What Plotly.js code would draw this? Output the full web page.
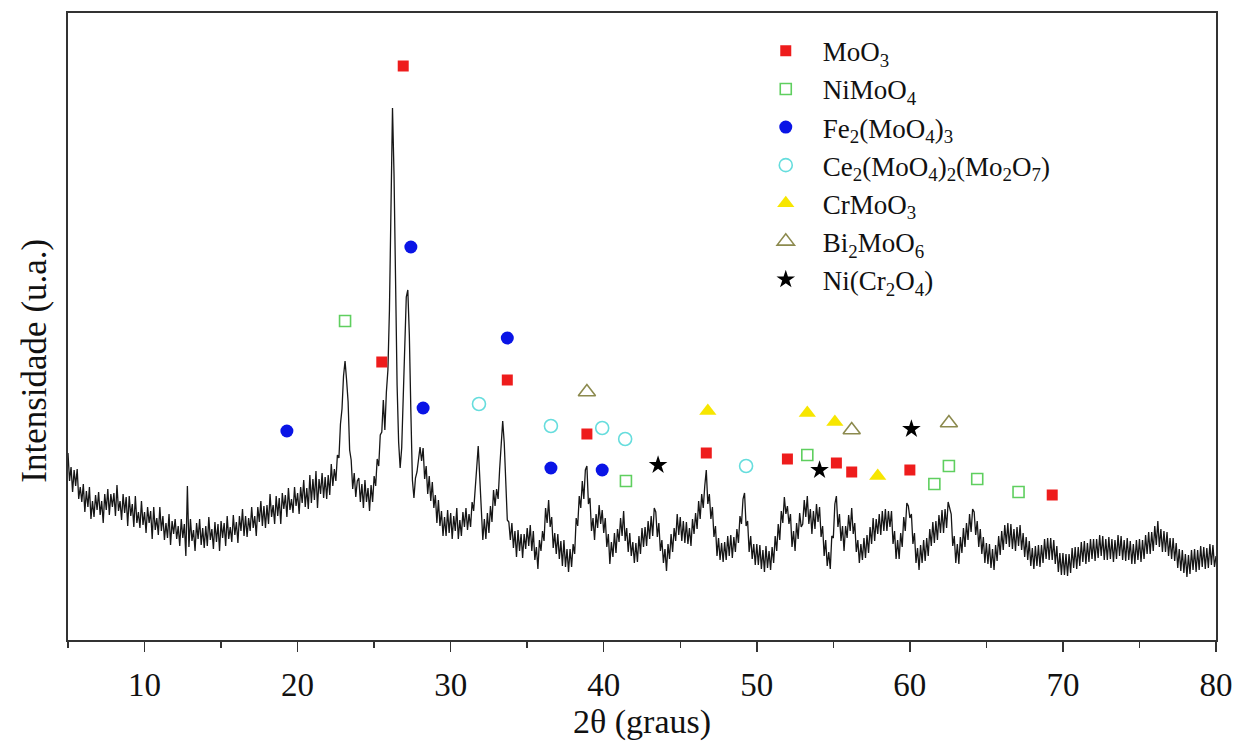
<!DOCTYPE html>
<html>
<head>
<meta charset="utf-8">
<script src="https://cdn.plot.ly/plotly-3.0.1.min.js"></script>
<style>
  html, body { margin: 0; padding: 0; background: #fff; }
  #chart { width: 1240px; height: 743px; }
</style>
</head>
<body>
<div id="chart"></div>
<script>
// 2θ measurement grid (instrument start and step, degrees)
const thetaStart = 5;
const thetaStep = 0.1;

const intensity = [
  187,159,173,148,170,154,171,141,153,138, // 5
  156,128,149,133,153,121,139,123,145,130, // 6
  148,125,139,117,146,130,151,125,146,133, // 7
  147,124,155,129,139,120,146,127,143,114, // 8
  144,124,136,113,144,117,128,112,139,115, // 9
  128,107,133,117,129,101,133,110,122,105, // 10
  133,109,124,100,117,102,126,95,119,106,  // 11
  121,101,114,94,121,102,116,84,154,93,    // 12
  121,99,110,89,117,101,121,95,112,92,     // 13
  114,94,123,100,111,91,118,98,116,89,     // 14
  119,102,117,94,124,101,113,98,125,105,   // 15
  118,97,124,109,131,104,124,103,122,109,  // 16
  133,112,124,104,133,118,139,114,134,112, // 17
  135,116,146,123,135,116,144,124,142,116, // 18
  147,131,145,123,152,130,141,127,153,134, // 19
  147,126,153,137,160,133,152,131,165,137, // 20
  161,140,169,132,161,146,167,142,163,141, // 21
  165,145,176,154,171,159,185,182,216,231, // 22
  264,279,260,238,190,180,151,167,143,159, // 23
  162,138,156,132,160,138,152,129,155,138, // 24
  164,154,181,174,205,208,240,210,248,270, // 25
  330,440,532,465,340,255,198,172,192,238, // 26
  298,343,350,305,228,160,142,162,168,184, // 27
  193,179,192,161,174,146,164,139,158,132, // 28
  145,117,140,114,129,104,123,104,130,107, // 29
  127,101,124,109,132,101,120,104,128,113, // 30
  132,110,126,113,138,129,156,172,194,160, // 31
  138,100,121,101,127,107,134,118,150,134, // 32
  151,141,171,192,219,197,163,120,118,100, // 33
  117,92,109,83,110,89,106,82,106,91,      // 34
  112,94,115,89,109,80,93,71,100,89,       // 35
  109,99,132,117,140,113,123,92,107,86,    // 36
  106,81,99,74,100,73,91,68,91,73,         // 37
  96,86,122,114,144,132,159,141,170,174,   // 38
  136,142,109,122,100,126,112,135,116,130, // 39
  107,122,93,106,76,98,83,107,87,111,      // 40
  98,122,104,129,99,112,88,107,84,98,      // 41
  77,97,78,104,86,112,93,113,94,119,       // 42
  101,124,104,132,128,103,117,89,100,77,   // 43
  91,69,96,81,106,88,112,99,126,105,       // 44
  123,99,119,97,118,96,112,94,121,106,     // 45
  127,111,139,121,146,132,154,170,136,146, // 46
  121,133,103,114,84,102,80,97,78,98,      // 47
  80,104,84,105,82,103,88,111,97,124,      // 48
  116,141,147,114,119,88,104,81,96,75,     // 49
  96,75,95,71,90,68,94,72,89,70,           // 50
  93,77,104,89,116,100,129,117,143,126,    // 51
  134,116,126,93,109,89,117,101,127,113,   // 52
  116,140,123,144,116,131,106,129,111,136, // 53
  118,133,103,114,84,100,74,88,71,104,     // 54
  102,136,144,113,126,99,114,89,114,102,   // 55
  125,109,132,106,117,88,100,77,96,80,     // 56
  102,82,105,87,113,96,122,99,121,106,     // 57
  126,105,129,109,131,109,129,113,129,96,  // 58
  109,81,100,81,107,93,123,109,137,134,    // 59
  122,126,96,107,77,92,70,95,77,100,       // 60
  79,102,84,111,94,118,97,119,100,125,     // 61
  107,130,107,131,112,138,132,126,94,104,  // 62
  77,96,76,103,87,112,93,117,100,126,      // 63
  108,131,128,105,119,93,111,86,103,77,    // 64
  97,76,96,72,91,70,95,79,104,85,          // 65
  109,90,115,96,117,93,116,91,111,89,      // 66
  113,94,115,90,107,83,103,80,99,74,       // 67
  92,71,94,74,95,73,95,77,101,81,          // 68
  102,80,102,80,100,76,94,68,87,65,        // 69
  87,65,86,64,86,67,92,72,93,71,           // 70
  93,74,98,78,99,76,97,78,101,81,          // 71
  101,79,101,82,105,84,104,80,101,80,      // 72
  103,81,101,78,100,81,105,84,104,80,      // 73
  100,79,102,80,99,76,96,76,100,80,        // 74
  101,78,100,81,105,86,108,86,108,89,      // 75
  114,95,119,93,111,88,109,88,108,84,      // 76
  102,81,102,79,97,72,91,69,90,67,         // 77
  86,63,85,66,90,70,91,68,90,70,           // 78
  94,73,93,71,92,72,96,75,95,73,           // 79
  84                                       // 80
];

// Phase identification markers (2θ, marker height in a.u.)
const moo3X = [26.9, 25.5, 33.7, 38.9, 46.7, 52.0, 55.2, 56.2, 60.0, 69.3];
const moo3Y = [574, 278, 260, 206, 187, 181, 177, 168, 170, 145];
const nimoo4X = [23.1, 41.45, 53.3, 61.6, 62.55, 64.4, 67.1];
const nimoo4Y = [319, 159, 185, 156, 174, 161, 148];
const fe2X = [19.3, 27.4, 28.2, 33.7, 36.55, 39.9];
const fe2Y = [209, 393, 232, 302, 172, 170];
const ce2X = [31.85, 36.55, 39.9, 41.4, 49.3];
const ce2Y = [236, 214, 212, 201, 174];
const crmoo3X = [46.8, 53.3, 55.1, 57.9];
const crmoo3Y = [229, 227, 218, 164];
const bi2X = [38.9, 56.2, 62.55];
const bi2Y = [248, 210, 217];
const nicrX = [43.55, 54.1, 60.1];
const nicrY = [175, 170, 211];

const phaseNames = [
  'MoO<sub>3</sub>',
  'NiMoO<sub>4</sub>',
  'Fe<sub>2</sub>(MoO<sub>4</sub>)<sub>3</sub>',
  'Ce<sub>2</sub>(MoO<sub>4</sub>)<sub>2</sub>(Mo<sub>2</sub>O<sub>7</sub>)',
  'CrMoO<sub>3</sub>',
  'Bi<sub>2</sub>MoO<sub>6</sub>',
  'Ni(Cr<sub>2</sub>O<sub>4</sub>)'
];

const xTicks = [10, 20, 30, 40, 50, 60, 70, 80];

const twoTheta = intensity.map((_, i) => +(thetaStart + i * thetaStep).toFixed(2));

const FONT = "'Liberation Serif', 'Times New Roman', serif";

function phase(name, xs, ys, symbol, color, size, open) {
  return {
    type: 'scatter', mode: 'markers', name: name, x: xs, y: ys,
    marker: open
      ? { symbol: symbol, size: size, color: color, line: { color: color, width: 1.6 } }
      : { symbol: symbol, size: size, color: color, line: { width: 0 } },
    cliponaxis: false
  };
}

const traces = [
  {
    type: 'scatter', mode: 'lines', x: twoTheta, y: intensity,
    line: { color: '#161616', width: 1.3 }, showlegend: false, hoverinfo: 'skip'
  },
  phase(phaseNames[0], moo3X, moo3Y, 'square', '#ee1c1c', 11, false),
  phase(phaseNames[1], nimoo4X, nimoo4Y, 'square-open', '#5fcf5f', 11, true),
  phase(phaseNames[2], fe2X, fe2Y, 'circle', '#0a14e6', 13, false),
  phase(phaseNames[3], ce2X, ce2Y, 'circle-open', '#66dddd', 13, true),
  phase(phaseNames[4], crmoo3X, crmoo3Y, 'triangle-up', '#f7e600', 15, false),
  phase(phaseNames[5], bi2X, bi2Y, 'triangle-up-open', '#8c8a4e', 15, true),
  phase(phaseNames[6], nicrX, nicrY, 'star', '#000000', 14, false)
];

const layout = {
  width: 1240, height: 743,
  margin: { l: 68, r: 24, t: 13, b: 103 },
  paper_bgcolor: '#ffffff', plot_bgcolor: '#ffffff',
  font: { family: FONT, color: '#111' },
  showlegend: true,
  legend: {
    x: 0.593, y: 0.978, xanchor: 'left', yanchor: 'top',
    bgcolor: 'rgba(0,0,0,0)', borderwidth: 0,
    font: { family: FONT, size: 27, color: '#111' },
    itemwidth: 64, tracegroupgap: 0
  },
  xaxis: {
    range: [5, 80], tickvals: xTicks, ticktext: xTicks.map(String),
    ticks: 'outside', ticklen: 10, tickwidth: 1.5, tickcolor: '#333',
    ticklabelstandoff: 4,
    minor: { dtick: 5, tick0: 0, ticks: 'outside', ticklen: 6, tickwidth: 1.5, tickcolor: '#333' },
    showline: true, linecolor: '#333', linewidth: 2, mirror: true,
    showgrid: false, zeroline: false,
    tickfont: { family: FONT, size: 33, color: '#111' },
    title: { text: '2θ (graus)', font: { family: FONT, size: 34, color: '#111' }, standoff: 6 }
  },
  yaxis: {
    range: [0, 627], showticklabels: false, ticks: '',
    showline: true, linecolor: '#333', linewidth: 2, mirror: true,
    showgrid: false, zeroline: false
  },
  annotations: [{
    text: 'Intensidade (u.a.)', textangle: -90,
    xref: 'paper', yref: 'paper', x: -0.029, y: 0.445,
    xanchor: 'center', yanchor: 'middle', showarrow: false,
    font: { family: FONT, size: 35, color: '#111' }
  }]
};

Plotly.newPlot('chart', traces, layout, { staticPlot: true, displayModeBar: false });
</script>
</body>
</html>
